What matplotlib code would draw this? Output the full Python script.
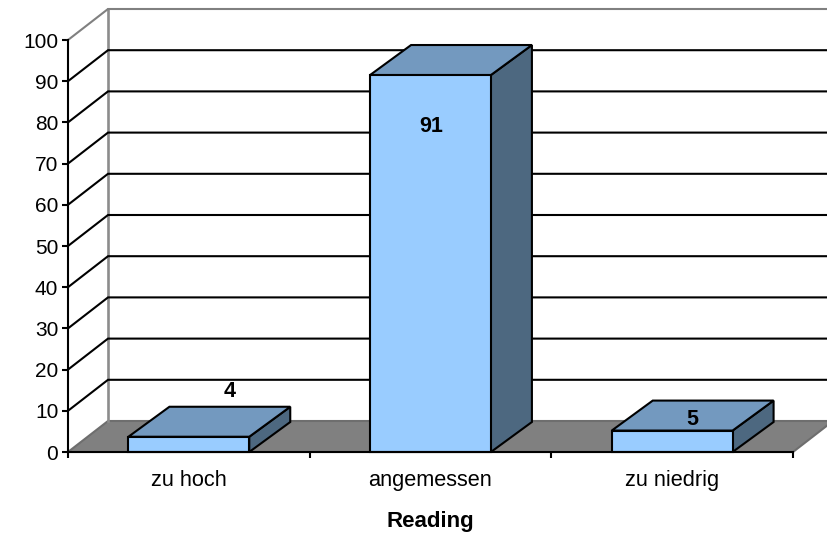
import matplotlib
matplotlib.use("Agg")
import matplotlib.pyplot as plt
from matplotlib.patches import Polygon

plt.rcParams['font.family'] = ['Liberation Sans', 'DejaVu Sans']

categories = ["zu hoch", "angemessen", "zu niedrig"]
values = [3.7, 91.5, 5.2]
value_labels = ["4", "91", "5"]
y_ticks = [0, 10, 20, 30, 40, 50, 60, 70, 80, 90, 100]
x_title = "Reading"

W, H = 828, 536
L, R, T, B = 68, 793, 40, 452
fig = plt.figure(figsize=(W / 100, H / 100), dpi=100, facecolor="white")
ax = fig.add_axes([L / W, (H - B) / H, (R - L) / W, (B - T) / H])
ax.set_xlim(0, 3)
ax.set_ylim(0, 100)
ax.patch.set_visible(False)

px_x = (R - L) / 3
px_y = (B - T) / 100
DX, DY = 40 / px_x, 31 / px_y           # depth of the chart box
BX, BY = 41 / px_x, 30 / px_y           # depth of each bar
LW = 1.5
GREY = "#808080"

# floor
ax.add_patch(Polygon([(0, 0), (DX, DY), (3 + DX, DY), (3, 0)], closed=True, fc=GREY,
                     ec="#6e6e6e", lw=LW, clip_on=False, zorder=1))
# back wall and grid
ax.plot([DX, DX], [DY, 100 + DY], color="#8c8c8c", lw=LW + 0.4, clip_on=False, zorder=2)
for v in y_ticks[1:]:
    c = "#808080" if v == 100 else "black"
    ax.plot([0, DX, 3 + DX], [v, v + DY, v + DY], color=c, lw=LW, clip_on=False, zorder=2,
            solid_joinstyle="miter")

# bars
width = 0.5
for i, v in enumerate(values):
    x0, x1 = i + 0.5 - width / 2, i + 0.5 + width / 2
    kw = dict(closed=True, ec="black", lw=LW, clip_on=False, zorder=3, joinstyle="miter")
    ax.add_patch(Polygon([(x1, 0), (x1 + BX, BY), (x1 + BX, v + BY), (x1, v)], fc="#4D6880", **kw))
    ax.add_patch(Polygon([(x0, v), (x0 + BX, v + BY), (x1 + BX, v + BY), (x1, v)], fc="#7399BF", **kw))
    ax.add_patch(Polygon([(x0, 0), (x1, 0), (x1, v), (x0, v)], fc="#99CCFF", **kw))

# value labels, placed by hand as in the source
label_offsets = [(41, 45), (1, -51), (20, 11)]
for i, (v, s) in enumerate(zip(values, value_labels)):
    ox, oy = label_offsets[i]
    ax.annotate(s, (i + 0.5, v), xytext=(ox * 0.72, oy * 0.72), textcoords="offset points",
                ha="center", va="center", fontsize=15.5, fontweight="bold", color="black", zorder=5)

for s in ("top", "right"):
    ax.spines[s].set_visible(False)
for s in ("left", "bottom"):
    ax.spines[s].set_linewidth(LW)
    ax.spines[s].set_zorder(4)

ax.set_yticks(y_ticks)
ax.tick_params(axis="y", length=4.5, width=LW, labelsize=15, pad=2.5)
ax.set_xticks([0, 1, 2, 3])
ax.set_xticklabels([])
ax.tick_params(axis="x", which="major", length=4.5, width=LW)
ax.set_xticks([0.5, 1.5, 2.5], minor=True)
ax.set_xticklabels(categories, minor=True, fontsize=15.7)
ax.tick_params(axis="x", which="minor", length=0, pad=13)

ax.set_xlabel(x_title, fontsize=16, fontweight="bold", labelpad=14.5)

fig.savefig("out.png", dpi=100, facecolor="white")
